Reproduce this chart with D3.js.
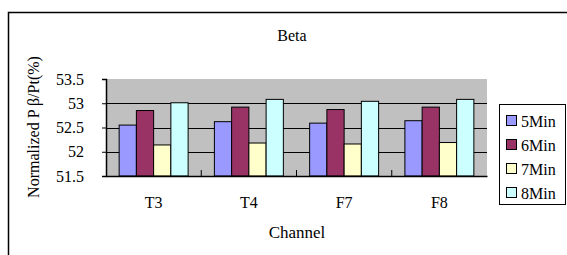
<!DOCTYPE html>
<html>
<head>
<meta charset="utf-8">
<script src="https://cdn.jsdelivr.net/npm/d3@7"></script>
<style>
  body { margin: 0; background: #fff; }
  svg text { font-family: "Liberation Serif", "Times New Roman", serif !important; fill: #000; }
</style>
</head>
<body>
<div class="chart"></div>
<script>
// data
const channels = ["T3", "T4", "F7", "F8"];
const series = ["5Min", "6Min", "7Min", "8Min"];
const colors = ["#9999ff", "#993366", "#ffffcc", "#ccffff"];
const min5 = [52.55, 52.62, 52.59, 52.64];
const min6 = [52.85, 52.92, 52.87, 52.92];
const min7 = [52.14, 52.18, 52.16, 52.19];
const min8 = [53.01, 53.08, 53.04, 53.08];
const yTicks = [51.5, 52, 52.5, 53, 53.5];

const values = [min5, min6, min7, min8];

const width = 567;
const height = 255;

const svg = d3.select(".chart").append("svg")
  .attr("width", width)
  .attr("height", height);

// outer chart frame (runs off the right and bottom)
svg.append("path")
  .attr("d", "M8.5,260 V12.5 H570")
  .attr("fill", "none")
  .attr("stroke", "#000")
  .attr("stroke-width", 1.5);

const plot = { left: 106, right: 487, top: 79, bottom: 176 };

const x0 = d3.scaleBand()
  .domain(channels)
  .range([plot.left, plot.right])
  .paddingInner(0.276)
  .paddingOuter(0.138);

const x1 = d3.scaleBand()
  .domain(series)
  .range([0, x0.bandwidth()]);

const y = d3.scaleLinear()
  .domain([51.5, 53.5])
  .range([plot.bottom, plot.top]);

// plot background
svg.append("rect")
  .attr("x", plot.left)
  .attr("y", plot.top)
  .attr("width", plot.right - plot.left)
  .attr("height", plot.bottom - plot.top)
  .attr("fill", "#c0c0c0");

// gridlines
svg.append("g")
  .selectAll("line")
  .data(yTicks.slice(1, -1))
  .join("line")
  .attr("x1", plot.left)
  .attr("x2", plot.right)
  .attr("y1", (d) => Math.round(y(d)) + 0.5)
  .attr("y2", (d) => Math.round(y(d)) + 0.5)
  .attr("stroke", "#000")
  .attr("stroke-width", 1);

// bars
const groups = svg.append("g")
  .selectAll("g")
  .data(channels)
  .join("g")
  .attr("transform", (d) => `translate(${x0(d)},0)`);

groups.selectAll("rect")
  .data((d, i) => series.map((s, j) => ({ s, j, v: values[j][i] })))
  .join("rect")
  .attr("x", (d) => x1(d.s))
  .attr("y", (d) => y(d.v))
  .attr("width", x1.bandwidth())
  .attr("height", (d) => y(51.5) - y(d.v))
  .attr("fill", (d) => colors[d.j])
  .attr("stroke", "#000")
  .attr("stroke-width", 1);

// y axis
const yAxis = svg.append("g")
  .attr("transform", `translate(${plot.left},0)`)
  .call(d3.axisLeft(y).tickValues(yTicks).tickFormat(d3.format("")).tickSize(4).tickPadding(18));
yAxis.select(".domain").attr("stroke-width", 1.5);
yAxis.selectAll("text").attr("font-size", 16);

// x axis
const xAxis = svg.append("g")
  .attr("transform", `translate(0,${plot.bottom})`)
  .call(d3.axisBottom(x0).tickSize(0).tickPadding(21));
xAxis.select(".domain").attr("stroke-width", 1.5);
xAxis.selectAll("text").attr("font-size", 16);

// category separator ticks (pointing up)
const step = x0.step();
svg.append("g")
  .selectAll("line")
  .data(d3.range(1, channels.length))
  .join("line")
  .attr("x1", (i) => plot.left + i * step)
  .attr("x2", (i) => plot.left + i * step)
  .attr("y1", plot.bottom)
  .attr("y2", plot.bottom - 6)
  .attr("stroke", "#000");

// titles
svg.append("text")
  .attr("x", 292)
  .attr("y", 41)
  .attr("text-anchor", "middle")
  .attr("font-size", 16)
  .text("Beta");

svg.append("text")
  .attr("x", 297)
  .attr("y", 238)
  .attr("text-anchor", "middle")
  .attr("font-size", 17)
  .text("Channel");

svg.append("text")
  .attr("transform", "translate(39,127) rotate(-90)")
  .attr("text-anchor", "middle")
  .attr("font-size", 16)
  .text("Normalized P β/Pt(%)");

// legend
const legend = svg.append("g").attr("transform", "translate(499,104)");
legend.append("rect")
  .attr("x", 0.5)
  .attr("y", 0.5)
  .attr("width", 66)
  .attr("height", 100)
  .attr("fill", "#fff")
  .attr("stroke", "#000");

const item = legend.selectAll("g.item")
  .data(series)
  .join("g")
  .attr("class", "item")
  .attr("transform", (d, i) => `translate(7,${17 + i * 24})`);

item.append("rect")
  .attr("x", 0.5)
  .attr("y", -5.5)
  .attr("width", 10)
  .attr("height", 10)
  .attr("fill", (d, i) => colors[i])
  .attr("stroke", "#000");

item.append("text")
  .attr("x", 15)
  .attr("y", 5.5)
  .attr("font-size", 16)
  .text((d) => d);
</script>
</body>
</html>
